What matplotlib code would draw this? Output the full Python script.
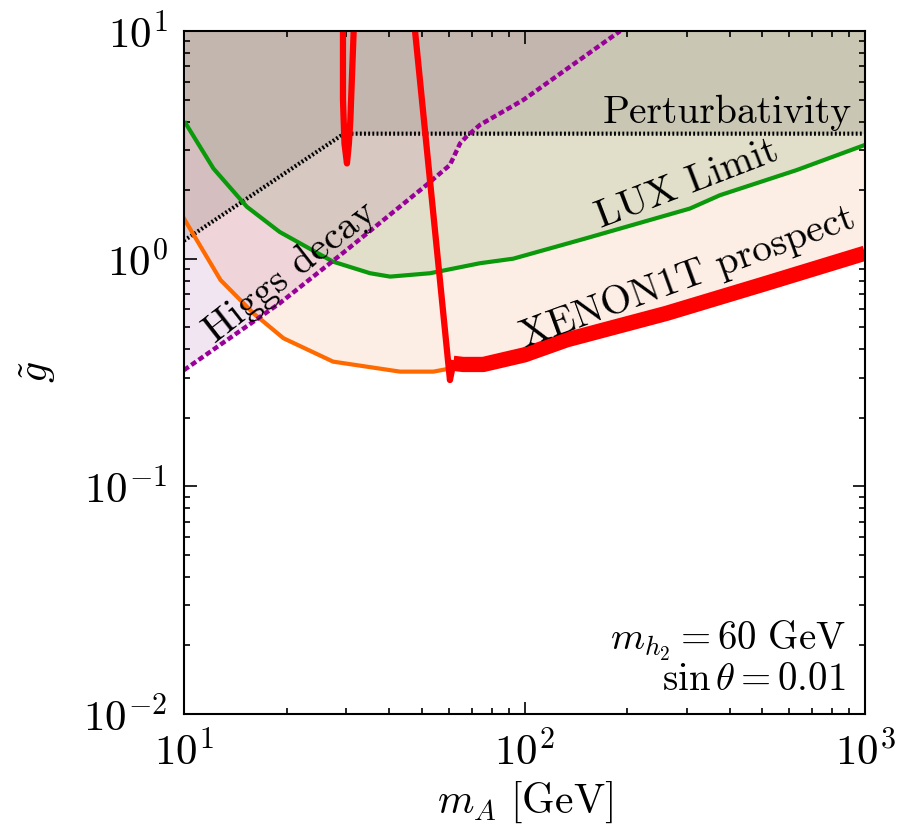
import numpy as np
import matplotlib
matplotlib.use("Agg")
from matplotlib import pyplot as plt

plt.rcParams['font.family'] = 'serif'
plt.rcParams['font.serif'] = ['cmr10']
plt.rcParams['mathtext.fontset'] = 'cm'
plt.rcParams['axes.formatter.use_mathtext'] = True
plt.rcParams['axes.unicode_minus'] = True

### data (m_A in GeV, g~)
# LUX limit
lux_m = [10.1, 12.2, 15.3, 19.1, 27.4, 35.2, 40.3, 52.8, 74, 92.7, 152, 306, 375, 630, 1000]
lux_g = [3.94, 2.49, 1.69, 1.31, 0.97, 0.863, 0.834, 0.863, 0.955, 1.0, 1.23, 1.66, 1.90, 2.45, 3.16]

# XENON1T prospect, low mass part (orange) and high mass part (red band)
xe_low_m = [10, 12.8, 16.0, 19.6, 27.4, 43.1, 54, 59, 61.8]
xe_low_g = [1.50, 0.806, 0.575, 0.447, 0.353, 0.319, 0.319, 0.327, 0.347]
xe_high_m = [61.8, 66, 75.7, 100, 133, 261, 514, 1000]
xe_high_g = [0.347, 0.343, 0.343, 0.378, 0.44, 0.575, 0.78, 1.057]

# Higgs decay bound
higgs_m = [10, 19.1, 30, 51.6, 60.4, 64.7, 67.6, 74, 99.2, 191]
higgs_g = [0.324, 0.637, 1.09, 2.11, 2.58, 3.21, 3.44, 3.87, 4.98, 10]

# perturbativity
pert_m = [10, 29.5, 1000]
pert_g = [1.2, 3.54, 3.54]

# relic density contours (red)
spike_m = [29.3, 29.3, 29.6, 30.1, 30.5, 30.8, 31.5]
spike_g = [10, 5.0, 3.2, 2.62, 3.2, 4.06, 10]
wall_m = [47.7, 60.4, 61.8]
wall_g = [10, 0.293, 0.347]

xe_m = xe_low_m + xe_high_m[1:]
xe_g = xe_low_g + xe_high_g[1:]

fig = plt.figure(figsize=(8.98, 8.27), dpi=100)
ax = fig.add_axes([184/898, 1 - 714/827, 681/898, 683/827])
ax.set_xscale('log')
ax.set_yscale('log')

top = 10
ax.fill_between(lux_m, lux_g, top, color='#008000', alpha=0.12, lw=0)
ax.fill_between(xe_m, xe_g, top, color='#eb5505', alpha=0.1, lw=0)
ax.fill_between(higgs_m, higgs_g, top, color='#800080', alpha=0.1, lw=0)
ax.fill_between(pert_m, pert_g, top, color='#968e86', alpha=0.3, lw=0)

ax.plot(pert_m, pert_g, color='k', lw=3, ls=(0, (0.45, 0.55)))
ax.plot(lux_m, lux_g, color='#0a990a', lw=3)
ax.plot(xe_low_m, xe_low_g, color='#ff6a00', lw=3)
ax.plot(higgs_m, higgs_g, color='#990099', lw=3.2, ls=(0, (1.3, 0.7)))
ax.plot(xe_high_m, xe_high_g, color='#ff0000', lw=11, solid_capstyle='butt')
ax.plot(wall_m, wall_g, color='#ff0000', lw=4.5)
ax.plot(spike_m, spike_g, color='#ff0000', lw=4.5)

ax.set_xlim(10, 1000)
ax.set_ylim(0.01, 10)

ax.tick_params(which='both', direction='in', top=True, right=True, width=1.2)
ax.tick_params(which='major', length=9, labelsize=31, pad=12)
ax.tick_params(which='minor', length=4.5)
for s in ax.spines.values():
    s.set_linewidth(1.5)

ax.set_xlabel(r'$m_A\ [\mathrm{GeV}]$', fontsize=30, labelpad=4)
ax.set_ylabel(r'$\tilde{g}$', fontsize=30, labelpad=18)

ax.text(0.981, 0.865, 'Perturbativity', transform=ax.transAxes,
        ha='right', va='baseline', fontsize=28.5)
ax.text(300, 2.13, 'LUX Limit', fontsize=28.5, rotation=21,
        ha='center', va='center', rotation_mode='anchor')
ax.text(302, 0.83, 'XENON1T prospect', fontsize=28.5, rotation=20,
        ha='center', va='center', rotation_mode='anchor')
ax.text(20.5, 0.87, 'Higgs decay', fontsize=28.5, rotation=38,
        ha='center', va='center', rotation_mode='anchor')

ax.text(0.972, 0.094, r'$m_{h_2} = 60\ \mathrm{GeV}$', transform=ax.transAxes,
        ha='right', va='baseline', fontsize=28)
ax.text(0.972, 0.035, r'$\sin\theta = 0.01$', transform=ax.transAxes,
        ha='right', va='baseline', fontsize=28)

fig.savefig('out.png', dpi=100)
